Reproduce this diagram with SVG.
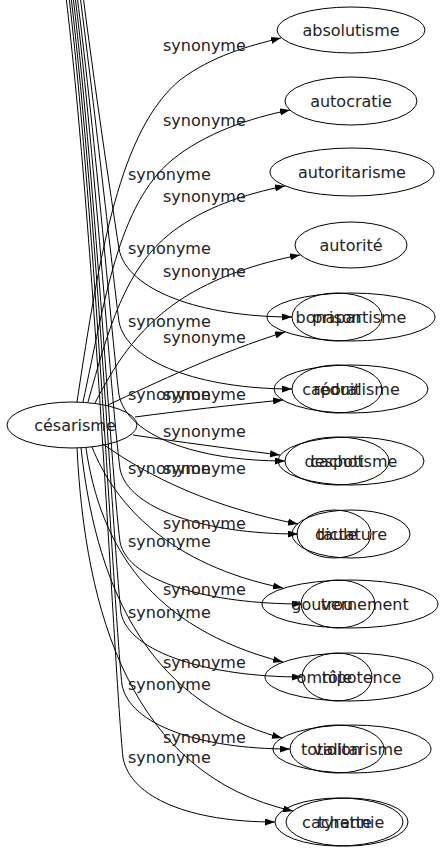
<svg xmlns="http://www.w3.org/2000/svg" width="445" height="851" viewBox="0 0 445 851">
<style>
.n ellipse{fill:none;stroke:#000;stroke-width:1}
text{font-family:"DejaVu Sans","Liberation Sans",sans-serif;font-size:16px;fill:#222}
.n text{text-anchor:middle}
.e path{fill:none;stroke:#000;stroke-width:1;marker-end:url(#ah)}
</style>
<defs>
<marker id="ah" markerWidth="10" markerHeight="7" refX="10" refY="3.5" orient="auto" markerUnits="userSpaceOnUse">
<path d="M0,0 L10,3.5 L0,7 z" fill="#000"/>
</marker>
</defs>
<rect width="445" height="851" fill="#fff"/>
<g id="connectors" class="e">
<path d="M77,402 C100,250 120,130 180,80 C212,56 248,46 281,38"/>
<path d="M83,402 C105,300 118,205 172,160 C205,133 250,118 290,110"/>
<path d="M88,402 C108,330 125,268 172,232 C205,207 245,194 285,186"/>
<path d="M95,403 C112,370 135,330 180,300 C215,277 258,263 300,255"/>
<path d="M108,405 C155,383 220,352 285,332"/>
<path d="M135,417 C180,411 232,405 283,400"/>
<path d="M133,435 C180,442 232,449 280,455"/>
<path d="M103,444 C150,478 215,508 298,524"/>
<path d="M92,447 C115,505 170,565 283,588"/>
<path d="M86,448 C100,545 150,628 283,662"/>
<path d="M81,448 C95,575 140,700 282,738"/>
<path d="M77,448 C85,610 130,775 293,811"/>
<path d="M81,-20 C95,90 110,190 119,249 C127,290 200,317 292,317"/>
<path d="M78,-20 C95,110 110,250 119,322 C127,362 200,389 292,389"/>
<path d="M75,-20 C95,130 110,320 119,395 C127,435 195,461 285,461"/>
<path d="M73,-20 C95,150 110,390 120,469 C128,509 205,534 298,534"/>
<path d="M71,-20 C95,170 110,460 120,542 C128,582 210,604 302,604"/>
<path d="M69,-20 C95,190 112,530 121,613 C129,653 210,677 302,677"/>
<path d="M67,-20 C95,210 113,600 122,685 C130,725 200,749 290,749"/>
<path d="M64,-20 C95,230 114,670 123,758 C131,798 190,822 275,822"/>
<g id="edge-labels">
<text x="163" y="51">synonyme</text>
<text x="163" y="126">synonyme</text>
<text x="163" y="202">synonyme</text>
<text x="163" y="277">synonyme</text>
<text x="163" y="343">synonyme</text>
<text x="163" y="400">synonyme</text>
<text x="163" y="437">synonyme</text>
<text x="163" y="474">synonyme</text>
<text x="163" y="529">synonyme</text>
<text x="163" y="595">synonyme</text>
<text x="163" y="668">synonyme</text>
<text x="163" y="743">synonyme</text>
<text x="128" y="180">synonyme</text>
<text x="128" y="254">synonyme</text>
<text x="128" y="327">synonyme</text>
<text x="128" y="400">synonyme</text>
<text x="128" y="474">synonyme</text>
<text x="128" y="547">synonyme</text>
<text x="128" y="618">synonyme</text>
<text x="128" y="690">synonyme</text>
<text x="128" y="763">synonyme</text>
</g>
</g>
<g id="cesarisme" class="n"><ellipse cx="72" cy="425" rx="65" ry="23"/><text x="75" y="431">césarisme</text></g>
<g id="absolutisme" class="n"><ellipse cx="351" cy="30" rx="74" ry="23"/><text x="351" y="36">absolutisme</text></g>
<g id="autocratie" class="n"><ellipse cx="351" cy="101" rx="66" ry="24"/><text x="351" y="107">autocratie</text></g>
<g id="autoritarisme" class="n"><ellipse cx="352" cy="172" rx="82" ry="24"/><text x="352" y="178">autoritarisme</text></g>
<g id="autorite" class="n"><ellipse cx="351" cy="245" rx="56" ry="23"/><text x="351" y="251">autorité</text></g>
<g id="bonapartisme" class="n"><ellipse cx="351" cy="317" rx="84" ry="24"/><text x="351" y="323">bonapartisme</text></g>
<g id="caporalisme" class="n"><ellipse cx="351" cy="389" rx="77" ry="24"/><text x="351" y="395">caporalisme</text></g>
<g id="despotisme" class="n"><ellipse cx="351" cy="461" rx="73" ry="24"/><text x="351" y="467">despotisme</text></g>
<g id="dictature" class="n"><ellipse cx="351" cy="534" rx="59" ry="24"/><text x="351" y="540">dictature</text></g>
<g id="gouvernement" class="n"><ellipse cx="350" cy="604" rx="88" ry="24"/><text x="350" y="610">gouvernement</text></g>
<g id="omnipotence" class="n"><ellipse cx="349" cy="677" rx="84" ry="24"/><text x="349" y="683">omnipotence</text></g>
<g id="totalitarisme" class="n"><ellipse cx="352" cy="749" rx="79" ry="24"/><text x="352" y="755">totalitarisme</text></g>
<g id="tyrannie" class="n"><ellipse cx="347" cy="822" rx="61" ry="24"/><text x="351" y="828">tyrannie</text></g>
<g id="prison" class="n"><ellipse cx="337" cy="317" rx="45" ry="24"/><text x="337" y="323">prison</text></g>
<g id="reduit" class="n"><ellipse cx="337" cy="389" rx="45" ry="24"/><text x="337" y="395">réduit</text></g>
<g id="cachot" class="n"><ellipse cx="337" cy="461" rx="52" ry="24"/><text x="337" y="467">cachot</text></g>
<g id="taule" class="n"><ellipse cx="334" cy="534" rx="37" ry="24"/><text x="337" y="540">taule</text></g>
<g id="trou" class="n"><ellipse cx="338" cy="604" rx="37" ry="24"/><text x="337" y="610">trou</text></g>
<g id="tole" class="n"><ellipse cx="337" cy="677" rx="35" ry="24"/><text x="337" y="683">tôle</text></g>
<g id="violon" class="n"><ellipse cx="337" cy="749" rx="47" ry="24"/><text x="337" y="755">violon</text></g>
<g id="cachette" class="n"><ellipse cx="339" cy="822" rx="64" ry="24"/><text x="337" y="828">cachette</text></g>
</svg>
